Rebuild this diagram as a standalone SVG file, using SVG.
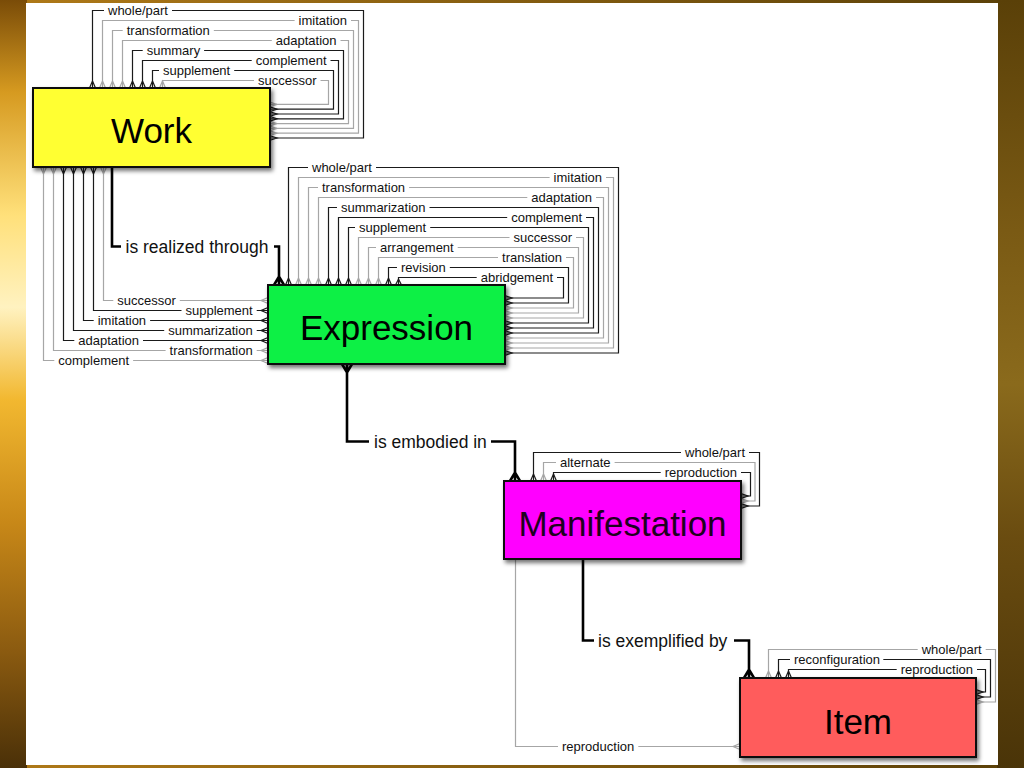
<svg xmlns="http://www.w3.org/2000/svg" width="1024" height="768" viewBox="0 0 1024 768">
<defs>
<style>
.ln{fill:none;stroke:#1a1a1a;stroke-width:1.2}
.lg{fill:none;stroke:#a6a6a6;stroke-width:1.2}
.th{fill:none;stroke:#000;stroke-width:2.6}
.gap{fill:#fff}
.lbl{font-family:"Liberation Sans",Arial,sans-serif;font-size:13px;fill:#111}
.big{font-family:"Liberation Sans",Arial,sans-serif;font-size:17.5px;fill:#111}
.title{font-family:"Liberation Sans",Arial,sans-serif;font-size:35px;fill:#000;text-anchor:middle}
.box{stroke:#111;stroke-width:2;filter:url(#sh)}
.e{text-anchor:end}
</style>
<filter id="sh" x="-10%" y="-10%" width="130%" height="140%">
<feDropShadow dx="2" dy="3" stdDeviation="2" flood-color="#000" flood-opacity="0.55"/>
</filter>
<linearGradient id="lgL" x1="0" y1="0" x2="0" y2="1">
<stop offset="0" stop-color="#7a4c08"/>
<stop offset="0.12" stop-color="#d69a20"/>
<stop offset="0.28" stop-color="#ffe07a"/>
<stop offset="0.4" stop-color="#fff2c0"/>
<stop offset="0.52" stop-color="#f2b830"/>
<stop offset="0.68" stop-color="#c88818"/>
<stop offset="0.85" stop-color="#8a5a10"/>
<stop offset="1" stop-color="#4a3008"/>
</linearGradient>
<linearGradient id="lgR" x1="0" y1="0" x2="0" y2="1">
<stop offset="0" stop-color="#5a4008"/>
<stop offset="0.3" stop-color="#7a5a14"/>
<stop offset="0.5" stop-color="#8a6a1c"/>
<stop offset="0.7" stop-color="#6a4c10"/>
<stop offset="1" stop-color="#4a3408"/>
</linearGradient>
<linearGradient id="lgT" x1="0" y1="0" x2="1" y2="0">
<stop offset="0" stop-color="#b07a18"/>
<stop offset="1" stop-color="#5a4008"/>
</linearGradient>
</defs>

<g id="background">
<rect x="0" y="0" width="1024" height="768" fill="url(#lgT)"/>
<rect x="0" y="0" width="27" height="768" fill="url(#lgL)"/>
<rect x="997" y="0" width="27" height="768" fill="url(#lgR)"/>
<rect x="26" y="3" width="972" height="762" fill="#fff"/>
</g>

<g id="connectors">
<!-- Work self loops -->
<path class="ln" d="M92.5,88 V10.5 H363.5 V138 H270"/>
<path class="lg" d="M102.5,88 V20.5 H358.5 V133.2 H270"/>
<path class="lg" d="M112.5,88 V30.5 H353.5 V128.4 H270"/>
<path class="lg" d="M122.5,88 V40.5 H348.5 V123.6 H270"/>
<path class="ln" d="M132.5,88 V50.5 H343.5 V118.8 H270"/>
<path class="ln" d="M142.5,88 V60.5 H338.5 V114 H270"/>
<path class="ln" d="M152.5,88 V70.5 H333.5 V109.2 H270"/>
<path class="lg" d="M162.5,88 V80.5 H328.5 V104.4 H270"/>
<path class="ln" d="M89.5,88 L92.5,81 L95.5,88 M270,135.7 L277,138 L270,140.3"/>
<path class="lg" d="M99.5,88 L102.5,81 L105.5,88 M270,130.9 L277,133.2 L270,135.5"/>
<path class="lg" d="M109.5,88 L112.5,81 L115.5,88 M270,126.1 L277,128.4 L270,130.7"/>
<path class="lg" d="M119.5,88 L122.5,81 L125.5,88 M270,121.3 L277,123.6 L270,125.9"/>
<path class="ln" d="M129.5,88 L132.5,81 L135.5,88 M270,116.5 L277,118.8 L270,121.1"/>
<path class="ln" d="M139.5,88 L142.5,81 L145.5,88 M270,111.7 L277,114 L270,116.3"/>
<path class="ln" d="M149.5,88 L152.5,81 L155.5,88 M270,106.9 L277,109.2 L270,111.5"/>
<path class="lg" d="M159.5,88 L162.5,81 L165.5,88 M270,102.1 L277,104.4 L270,106.7"/>
<rect class="gap" x="104" y="8" width="68" height="5"/>
<rect class="gap" x="294.6" y="18" width="56.4" height="5"/>
<rect class="gap" x="122.7" y="28" width="91.1" height="5"/>
<rect class="gap" x="271.8" y="38" width="68.7" height="5"/>
<rect class="gap" x="142.7" y="48" width="61.4" height="5"/>
<rect class="gap" x="251.7" y="58" width="78.8" height="5"/>
<rect class="gap" x="159" y="68" width="75.2" height="5"/>
<rect class="gap" x="254" y="78" width="66.5" height="5"/>
<text class="lbl" x="108" y="15">whole/part</text>
<text class="lbl e" x="347" y="25">imitation</text>
<text class="lbl" x="126.7" y="35">transformation</text>
<text class="lbl e" x="336.5" y="45">adaptation</text>
<text class="lbl" x="146.7" y="55">summary</text>
<text class="lbl e" x="326.5" y="65">complement</text>
<text class="lbl" x="163" y="75">supplement</text>
<text class="lbl e" x="316.5" y="85">successor</text>

<!-- Work to Expression -->
<path class="lg" d="M103.5,167 V300.5 H268"/>
<path class="ln" d="M93.5,167 V310.5 H268"/>
<path class="ln" d="M83.5,167 V320.5 H268"/>
<path class="ln" d="M73.5,167 V330.5 H268"/>
<path class="ln" d="M63.5,167 V340.5 H268"/>
<path class="lg" d="M53.5,167 V350.5 H268"/>
<path class="lg" d="M43.5,167 V360.5 H268"/>
<path class="lg" d="M100.5,167 L103.5,174 L106.5,167 M268,297.5 L261,300.5 L268,303.5"/>
<path class="ln" d="M90.5,167 L93.5,174 L96.5,167 M268,307.5 L261,310.5 L268,313.5"/>
<path class="ln" d="M80.5,167 L83.5,174 L86.5,167 M268,317.5 L261,320.5 L268,323.5"/>
<path class="ln" d="M70.5,167 L73.5,174 L76.5,167 M268,327.5 L261,330.5 L268,333.5"/>
<path class="ln" d="M60.5,167 L63.5,174 L66.5,167 M268,337.5 L261,340.5 L268,343.5"/>
<path class="lg" d="M50.5,167 L53.5,174 L56.5,167 M268,347.5 L261,350.5 L268,353.5"/>
<path class="lg" d="M40.5,167 L43.5,174 L46.5,167 M268,357.5 L261,360.5 L268,363.5"/>
<rect class="gap" x="113.3" y="298" width="66.5" height="5"/>
<rect class="gap" x="181.5" y="308" width="75.2" height="5"/>
<rect class="gap" x="93.7" y="318" width="56.4" height="5"/>
<rect class="gap" x="164.2" y="328" width="92.5" height="5"/>
<rect class="gap" x="74.3" y="338" width="68.7" height="5"/>
<rect class="gap" x="165.6" y="348" width="91.1" height="5"/>
<rect class="gap" x="54.3" y="358" width="78.8" height="5"/>
<text class="lbl" x="117.3" y="305">successor</text>
<text class="lbl e" x="252.7" y="315">supplement</text>
<text class="lbl" x="97.7" y="325">imitation</text>
<text class="lbl e" x="252.7" y="335">summarization</text>
<text class="lbl" x="78.3" y="345">adaptation</text>
<text class="lbl e" x="252.7" y="355">transformation</text>
<text class="lbl" x="58.3" y="365">complement</text>

<!-- is realized through -->
<path class="th" d="M112,167 V246.5 H121 M274,246.5 H279 V285 M274,285 L279,276.5 L284,285"/>
<text class="big" x="125.5" y="252.5">is realized through</text>

<!-- Expression self loops -->
<path class="ln" d="M288.5,285 V167.5 H618.5 V353 H505"/>
<path class="lg" d="M298.5,285 V177.5 H613.5 V348 H505"/>
<path class="lg" d="M308.5,285 V187.5 H608.5 V343 H505"/>
<path class="lg" d="M318.5,285 V197.5 H603.5 V338 H505"/>
<path class="ln" d="M328.5,285 V207.5 H598.5 V333 H505"/>
<path class="ln" d="M338.5,285 V217.5 H593.5 V328 H505"/>
<path class="ln" d="M348.5,285 V227.5 H588.5 V323 H505"/>
<path class="lg" d="M358.5,285 V237.5 H583.5 V318 H505"/>
<path class="lg" d="M368.5,285 V247.5 H578.5 V313 H505"/>
<path class="lg" d="M378.5,285 V257.5 H573.5 V308 H505"/>
<path class="ln" d="M388.5,285 V267.5 H568.5 V303 H505"/>
<path class="ln" d="M398.5,285 V277.5 H563.5 V298 H505"/>
<path class="ln" d="M285.5,285 L288.5,278 L291.5,285 M505,350.6 L512,353 L505,355.4"/>
<path class="lg" d="M295.5,285 L298.5,278 L301.5,285 M505,345.6 L512,348 L505,350.4"/>
<path class="lg" d="M305.5,285 L308.5,278 L311.5,285 M505,340.6 L512,343 L505,345.4"/>
<path class="lg" d="M315.5,285 L318.5,278 L321.5,285 M505,335.6 L512,338 L505,340.4"/>
<path class="ln" d="M325.5,285 L328.5,278 L331.5,285 M505,330.6 L512,333 L505,335.4"/>
<path class="ln" d="M335.5,285 L338.5,278 L341.5,285 M505,325.6 L512,328 L505,330.4"/>
<path class="ln" d="M345.5,285 L348.5,278 L351.5,285 M505,320.6 L512,323 L505,325.4"/>
<path class="lg" d="M355.5,285 L358.5,278 L361.5,285 M505,315.6 L512,318 L505,320.4"/>
<path class="lg" d="M365.5,285 L368.5,278 L371.5,285 M505,310.6 L512,313 L505,315.4"/>
<path class="lg" d="M375.5,285 L378.5,278 L381.5,285 M505,305.6 L512,308 L505,310.4"/>
<path class="ln" d="M385.5,285 L388.5,278 L391.5,285 M505,300.6 L512,303 L505,305.4"/>
<path class="ln" d="M395.5,285 L398.5,279 L401.5,285 M505,295.6 L512,298 L505,300.4"/>
<rect class="gap" x="308" y="165" width="68" height="5"/>
<rect class="gap" x="549.6" y="175" width="56.4" height="5"/>
<rect class="gap" x="318" y="185" width="91.1" height="5"/>
<rect class="gap" x="527.3" y="195" width="68.7" height="5"/>
<rect class="gap" x="337" y="205" width="92.5" height="5"/>
<rect class="gap" x="507.2" y="215" width="78.8" height="5"/>
<rect class="gap" x="355" y="225" width="75.2" height="5"/>
<rect class="gap" x="509.5" y="235" width="66.5" height="5"/>
<rect class="gap" x="376" y="245" width="81.7" height="5"/>
<rect class="gap" x="498" y="255" width="68" height="5"/>
<rect class="gap" x="397" y="265" width="52.8" height="5"/>
<rect class="gap" x="476.7" y="275" width="80.3" height="5"/>
<text class="lbl" x="312" y="172">whole/part</text>
<text class="lbl e" x="602" y="182">imitation</text>
<text class="lbl" x="322" y="192">transformation</text>
<text class="lbl e" x="592" y="202">adaptation</text>
<text class="lbl" x="341" y="212">summarization</text>
<text class="lbl e" x="582" y="222">complement</text>
<text class="lbl" x="359" y="232">supplement</text>
<text class="lbl e" x="572" y="242">successor</text>
<text class="lbl" x="380" y="252">arrangement</text>
<text class="lbl e" x="562" y="262">translation</text>
<text class="lbl" x="401" y="272">revision</text>
<text class="lbl e" x="553" y="282">abridgement</text>

<!-- is embodied in -->
<path class="th" d="M347,364 V441.5 H369 M491,441.5 H515 V481 M342,364 L347,372.5 L352,364 M510,481 L515,472.5 L520,481"/>
<text class="big" x="374" y="447.5">is embodied in</text>

<!-- Manifestation self loops -->
<path class="ln" d="M533.5,481 V452.5 H759.5 V506 H741"/>
<path class="lg" d="M543.5,481 V462.5 H755 V501 H741"/>
<path class="ln" d="M553.5,481 V472.5 H750.5 V496 H741"/>
<path class="ln" d="M530.5,481 L533.5,474 L536.5,481 M741,503.6 L748,506 L741,508.4"/>
<path class="lg" d="M540.5,481 L543.5,474 L546.5,481 M741,498.6 L748,501 L741,503.4"/>
<path class="ln" d="M550.5,481 L553.5,474 L556.5,481 M741,493.6 L748,496 L741,498.4"/>
<rect class="gap" x="681" y="450" width="68" height="5"/>
<rect class="gap" x="556" y="460" width="58.6" height="5"/>
<rect class="gap" x="660.7" y="470" width="80.3" height="5"/>
<text class="lbl e" x="745" y="457">whole/part</text>
<text class="lbl" x="560" y="467">alternate</text>
<text class="lbl e" x="737" y="477">reproduction</text>

<!-- is exemplified by -->
<path class="th" d="M583,559 V640.5 H594 M734,640.5 H749 V678 M744,678 L749,669.5 L754,678"/>
<text class="big" x="598" y="646.5">is exemplified by</text>

<!-- Manifestation to Item reproduction -->
<path class="lg" d="M515.5,559 V746.5 H740 M740,743.5 L733,746.5 L740,749.5"/>
<rect class="gap" x="558" y="744" width="80.3" height="5"/>
<text class="lbl" x="562" y="751">reproduction</text>

<!-- Item self loops -->
<path class="lg" d="M768.5,678 V649.5 H995.5 V702 H976"/>
<path class="ln" d="M778.5,678 V659.5 H990.5 V697 H976"/>
<path class="ln" d="M788.5,678 V669.5 H985.5 V692 H976"/>
<path class="lg" d="M765.5,678 L768.5,671 L771.5,678 M976,699.6 L983,702 L976,704.4"/>
<path class="ln" d="M775.5,678 L778.5,671 L781.5,678 M976,694.6 L983,697 L976,699.4"/>
<path class="ln" d="M785.5,678 L788.5,671 L791.5,678 M976,689.6 L983,692 L976,694.4"/>
<rect class="gap" x="917.7" y="647" width="68" height="5"/>
<rect class="gap" x="790" y="657" width="93.3" height="5"/>
<rect class="gap" x="896.7" y="667" width="80.3" height="5"/>
<text class="lbl e" x="981.7" y="654">whole/part</text>
<text class="lbl" x="794" y="664">reconfiguration</text>
<text class="lbl e" x="973" y="674">reproduction</text>
</g>

<g id="work">
<rect class="box" x="33" y="88" width="237" height="79" fill="#ffff33"/>
<text class="title" x="151.5" y="142.5">Work</text>
</g>
<g id="expression">
<rect class="box" x="268" y="285" width="237" height="79" fill="#0cf045"/>
<text class="title" x="386.5" y="339.5">Expression</text>
</g>
<g id="manifestation">
<rect class="box" x="504" y="481" width="237" height="78" fill="#ff00ff"/>
<text class="title" x="622.5" y="536" style="fill:#200020">Manifestation</text>
</g>
<g id="item">
<rect class="box" x="740" y="678" width="236" height="79" fill="#ff5c5c"/>
<text class="title" x="858" y="733.5">Item</text>
</g>
</svg>
